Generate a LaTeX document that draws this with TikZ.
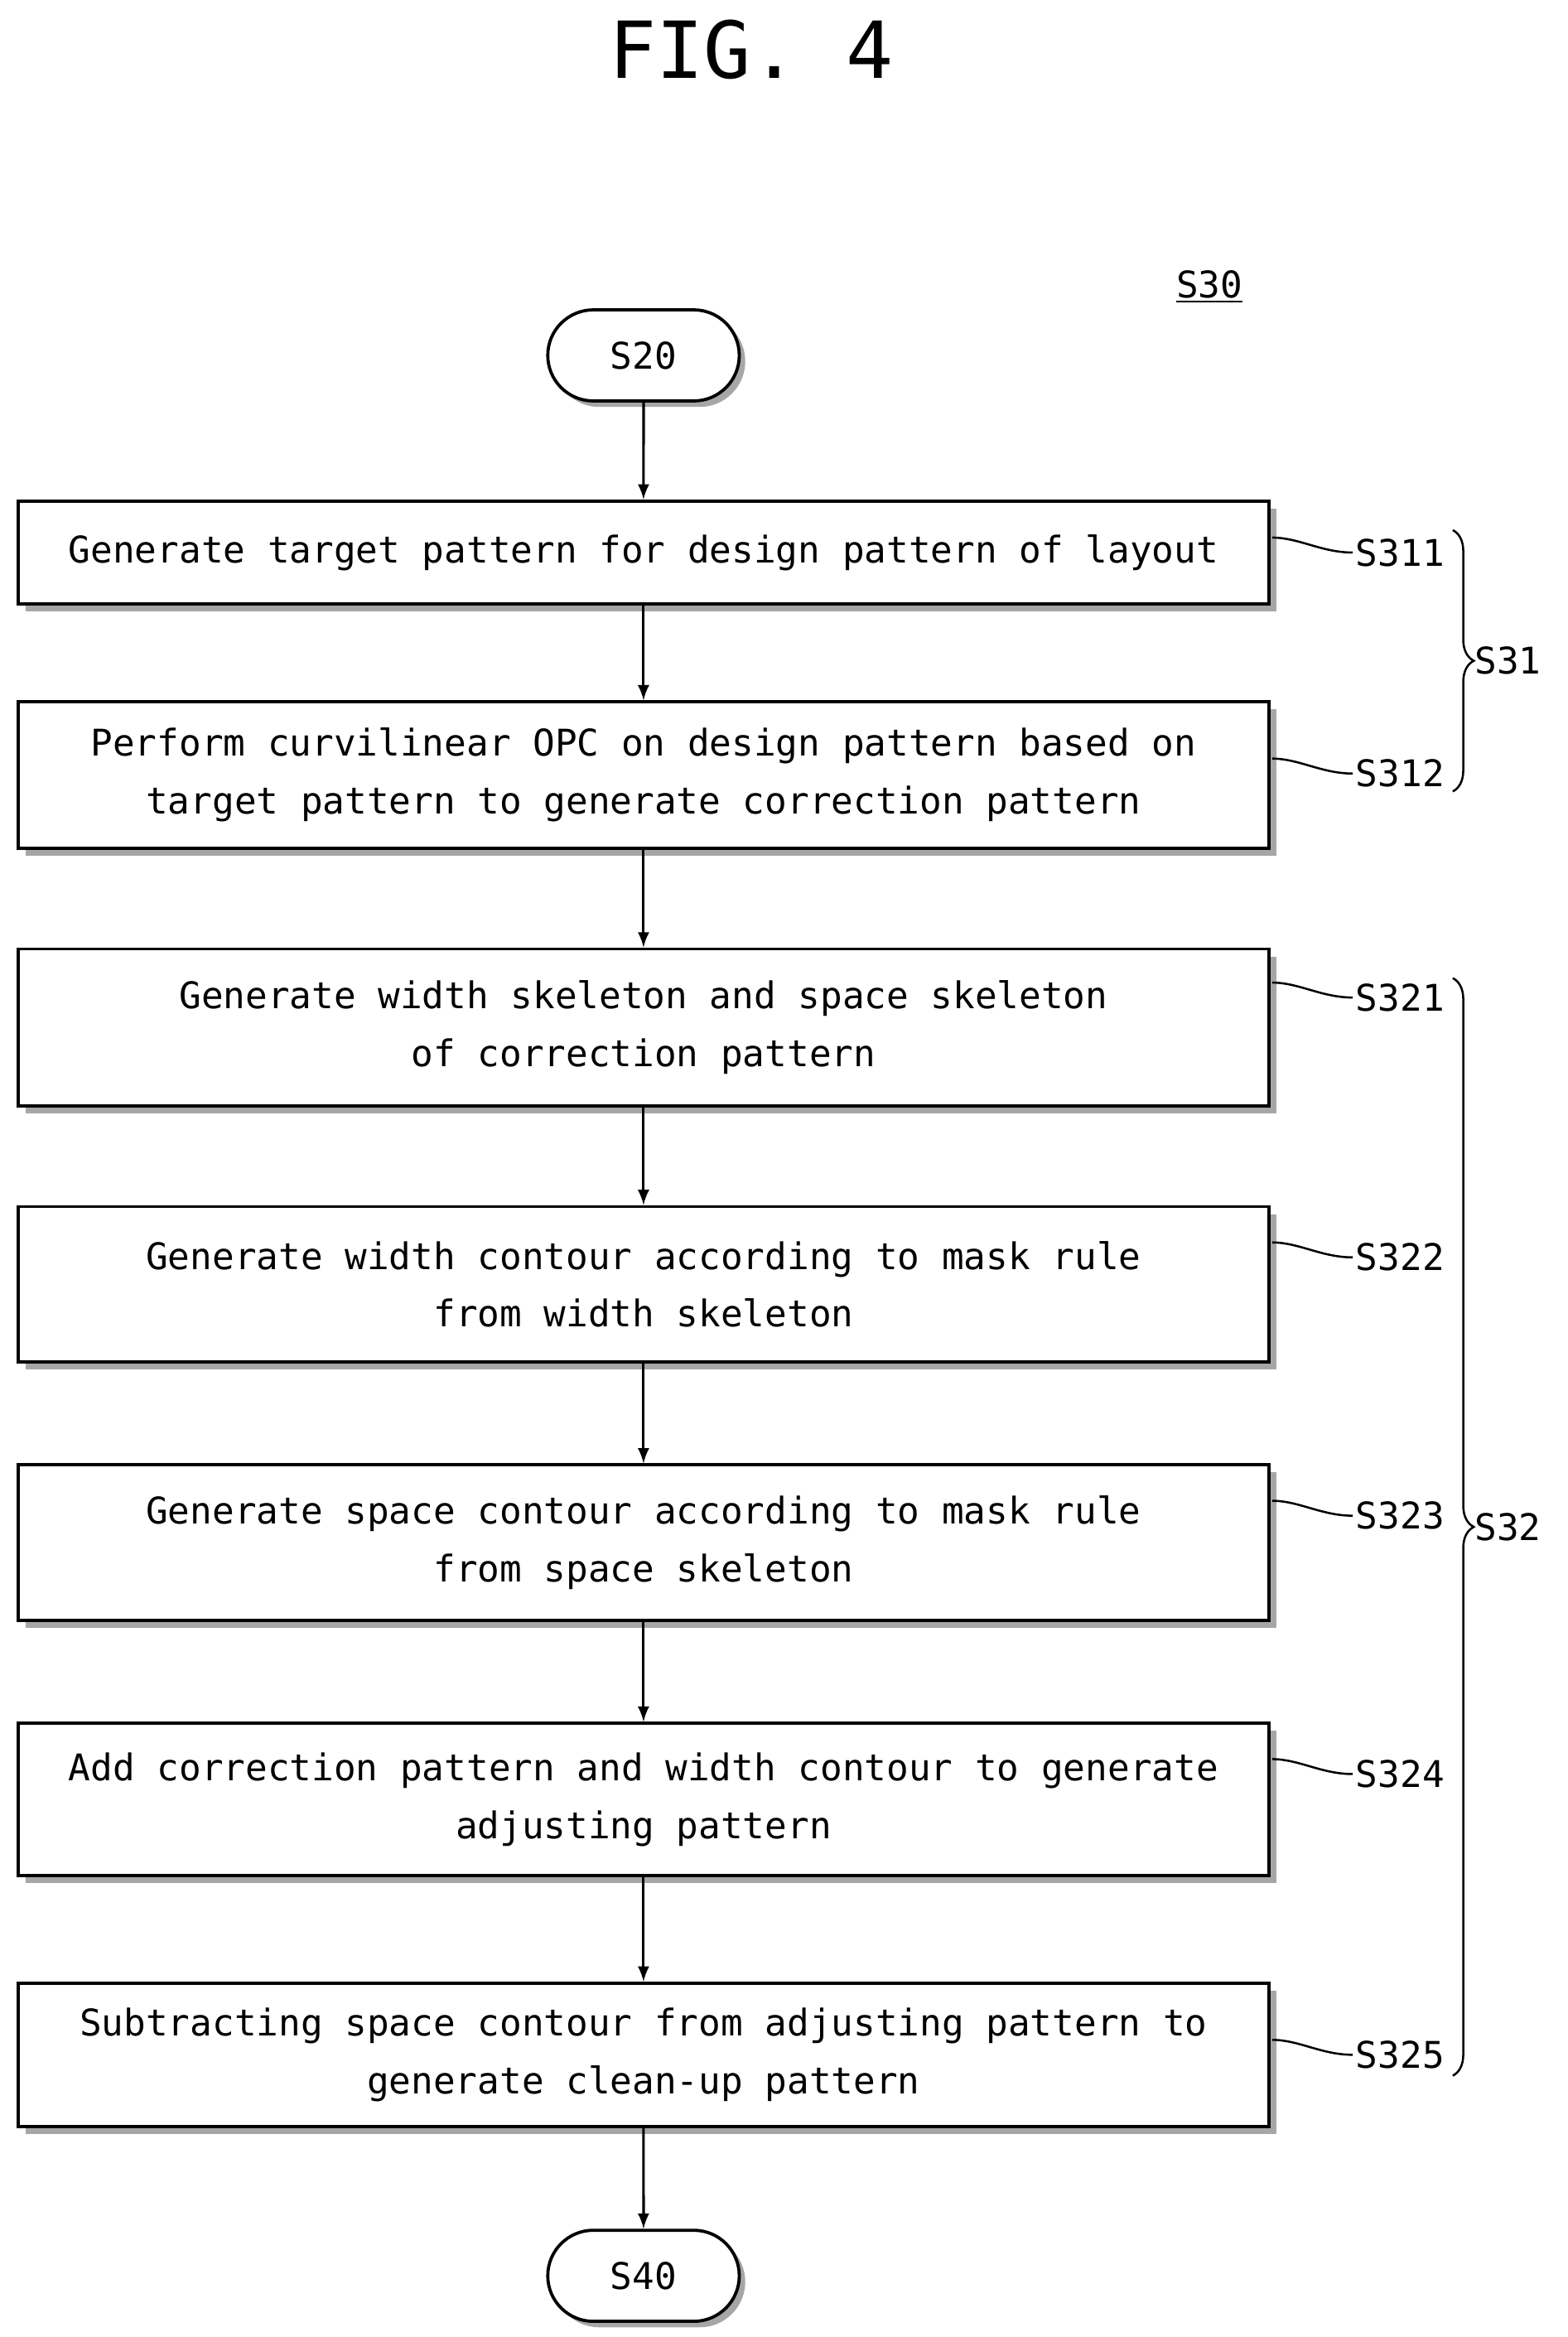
\documentclass[tikz,border=0pt]{standalone}
\usepackage{fontspec}
\setmainfont{DejaVu Sans Mono}
\usetikzlibrary{positioning,shapes,shadows,decorations.pathreplacing}
\tikzset{
  procbox/.style={draw, line width=1.2pt, fill=white, minimum width=16.76cm,
    align=center, font=\fontsize{14}{22}\selectfont,
    drop shadow={shadow xshift=0.1cm, shadow yshift=-0.1cm, opacity=1, fill=gray!70}},
  term/.style={draw, line width=1.2pt, fill=white, rounded rectangle, minimum width=2.8cm,
    minimum height=1.22cm, font=\fontsize{14}{17}\selectfont,
    drop shadow={shadow xshift=0.08cm, shadow yshift=-0.08cm, opacity=1, fill=gray!70}},
  flow/.style={-latex, line width=1pt},
  tag/.style={font=\fontsize{14}{17}\selectfont, inner sep=1pt},
  grp/.style={line width=0.8pt, decorate, decoration={brace, amplitude=8pt}}
}
\begin{document}
\begin{tikzpicture}[x=0.02cm,y=-0.02cm]
    \useasboundingbox (0,0) rectangle (1050,1565);
    \node[font=\fontsize{30}{34}\selectfont] (fig) at (503,33) {FIG. 4};
    \node[tag] (s30) at (810,192) {\underline{S30}};

    \node[term] (s20) at (431,238) {S20};
    \node[procbox, minimum height=1.38cm] (b1) at (431,370) {Generate target pattern for design pattern of layout};
    \node[procbox, minimum height=1.96cm] (b2) at (431,519) {Perform curvilinear OPC on design pattern based on\\target pattern to generate correction pattern};
    \node[procbox, minimum height=2.1cm] (b3) at (431,688) {Generate width skeleton and space skeleton\\of correction pattern};
    \node[procbox, minimum height=2.08cm] (b4) at (431,860) {Generate width contour according to mask rule\\from width skeleton};
    \node[procbox, minimum height=2.08cm] (b5) at (431,1033) {Generate space contour according to mask rule\\from space skeleton};
    \node[procbox, minimum height=2.04cm] (b6) at (431,1205) {Add correction pattern and width contour to generate\\adjusting pattern};
    \node[procbox, minimum height=1.92cm] (b7) at (431,1376) {Subtracting space contour from adjusting pattern to\\generate clean-up pattern};
    \node[term] (s40) at (431,1524) {S40};

    \draw[flow] (s20) -- (b1);
    \draw[flow] (b1) -- (b2);
    \draw[flow] (b2) -- (b3);
    \draw[flow] (b3) -- (b4);
    \draw[flow] (b4) -- (b5);
    \draw[flow] (b5) -- (b6);
    \draw[flow] (b6) -- (b7);
    \draw[flow] (b7) -- (s40);

    % step labels
    \foreach \n/\y in {S311/370, S312/518, S321/668, S322/842, S323/1015, S324/1188, S325/1376} {
        \node[tag, anchor=west] (\n) at (906,\y) {\n};
        \draw[line width=0.8pt] (852,\y-10) .. controls (870,\y-10) and (885,\y) .. (\n.west);
    }

    % groups
    \draw[grp] (973,355) -- (973,530) node[tag, midway, right=7pt] (s31) {S31};
    \draw[grp] (973,655) -- (973,1390) node[tag, midway, right=7pt] (s32) {S32};
\end{tikzpicture}
\end{document}
